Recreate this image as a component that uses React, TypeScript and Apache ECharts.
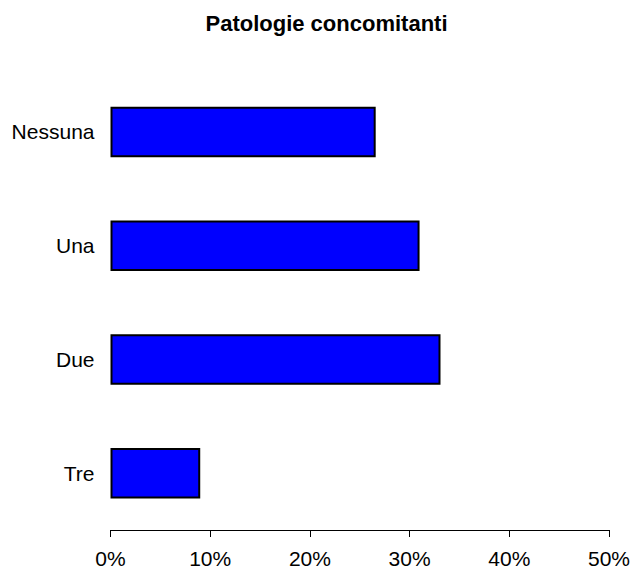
import React, { useEffect, useRef } from "react";
import * as echarts from "echarts";

const categories = ["Nessuna", "Una", "Due", "Tre"];
const values = [26.6, 31.0, 33.1, 9.0];
const xTicks = [0, 10, 20, 30, 40, 50];
const titleText = "Patologie concomitanti";

export default function App() {
  const ref = useRef<HTMLDivElement>(null);
  useEffect(() => {
    if (!ref.current) return;
    const chart = echarts.init(ref.current, null, { renderer: "svg" });
    chart.setOption({
      animation: false,
      backgroundColor: "#ffffff",
      title: {
        text: titleText,
        left: 321.5,
        top: 7,
        textAlign: "center",
        textStyle: {
          fontFamily: "Liberation Sans, Arial, sans-serif",
          fontSize: 22,
          fontWeight: "bold",
          color: "#000",
        },
      },
      grid: { left: 110.5, right: 22, top: 75, bottom: 38.5, containLabel: false },
      xAxis: {
        type: "value",
        min: xTicks[0],
        max: xTicks[xTicks.length - 1],
        interval: 10,
        axisLine: { show: true, lineStyle: { color: "#000", width: 1 } },
        axisTick: { show: true, inside: false, length: 7, lineStyle: { color: "#000" } },
        splitLine: { show: false },
        axisLabel: {
          formatter: "{value}%",
          margin: 18,
          fontFamily: "Liberation Sans, Arial, sans-serif",
          fontSize: 21,
          color: "#000",
        },
      },
      yAxis: {
        type: "category",
        data: categories,
        inverse: true,
        axisLine: { show: false },
        axisTick: { show: false },
        axisLabel: {
          margin: 16,
          fontFamily: "Liberation Sans, Arial, sans-serif",
          fontSize: 21,
          color: "#000",
        },
      },
      series: [
        {
          type: "bar",
          data: values,
          barWidth: 50.5,
          itemStyle: { color: "#0000FF", borderColor: "#000", borderWidth: 2 },
        },
      ],
    });
    return () => chart.dispose();
  }, []);
  return (
    <div
      ref={ref}
      style={{ position: "absolute", left: 0, top: 0, width: 633, height: 569 }}
    />
  );
}
